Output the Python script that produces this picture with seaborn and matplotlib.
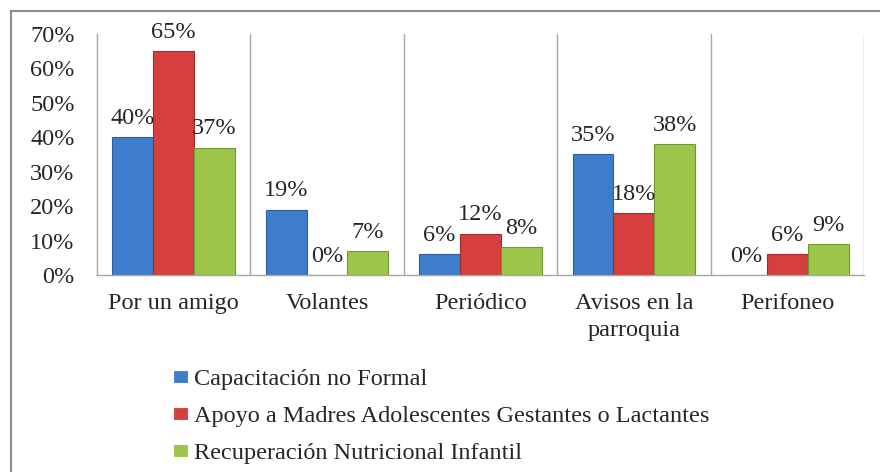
import matplotlib
matplotlib.use("Agg")
import matplotlib.pyplot as plt
import matplotlib.patches as mpatches
import seaborn as sns
import pandas as pd

categorias = ["Por un amigo", "Volantes", "Periódico", "Avisos en la\nparroquia", "Perifoneo"]
programas = ["Capacitación no Formal",
             "Apoyo a Madres Adolescentes Gestantes o Lactantes",
             "Recuperación Nutricional Infantil"]
capacitacion = [40, 19, 6, 35, 0]
apoyo_madres = [65, 0, 12, 18, 6]
recuperacion = [37, 7, 8, 38, 9]
colores = ["#3d7dcb", "#d5403e", "#9cc649"]
bordes = ["#2e5f9c", "#a02c2a", "#739636"]

df = pd.DataFrame({
    "categoria": categorias * 3,
    "programa": [programas[0]] * 5 + [programas[1]] * 5 + [programas[2]] * 5,
    "valor": capacitacion + apoyo_madres + recuperacion,
})

sns.set_style("white")
plt.rcParams['font.family'] = ['Liberation Serif', 'DejaVu Serif']
fs = 17.5

fig = plt.figure(figsize=(8.8, 4.72), dpi=100)
ax = fig.add_axes([0.110, 0.4174, 0.872, 0.5106])

sns.barplot(data=df, x="categoria", y="valor", hue="programa", palette=colores,
            order=categorias, hue_order=programas, width=0.8, ax=ax,
            saturation=1, linewidth=0.8, legend=True)

# borde un poco más oscuro en cada serie + etiquetas de datos
for cont, borde in zip(ax.containers, bordes):
    for bar in cont:
        bar.set_edgecolor(borde)
        h = bar.get_height()
        ax.text(bar.get_x() + bar.get_width() / 2, h + 2.4, f"{h:.0f}%",
                ha="center", va="bottom", fontsize=fs)

ax.set_ylim(0, 70)
ax.set_xlim(-0.5, 4.5)
ax.set_yticks(range(0, 71, 10))
ax.set_yticklabels([f"{v}%" for v in range(0, 71, 10)], fontsize=fs)
ax.tick_params(axis="x", labelsize=fs, pad=13, length=0)
ax.tick_params(axis="y", length=0, pad=16)
for t in ax.get_xticklabels():
    t.set_linespacing(1.4)
ax.set_xlabel("")
ax.set_ylabel("")

for xv in [0.5, 1.5, 2.5, 3.5, 4.5]:
    ax.axvline(xv, color="#a6a6a6", lw=1)
for s in ["top", "right"]:
    ax.spines[s].set_visible(False)
for s in ["left", "bottom"]:
    ax.spines[s].set_color("#a6a6a6")
    ax.spines[s].set_linewidth(1)

handles, labels = ax.get_legend_handles_labels()
ax.legend_.remove()
fig.legend(handles, labels, loc="upper left", bbox_to_anchor=(0.1966, 0.218),
           frameon=False, fontsize=fs, handlelength=0.62, handleheight=0.42,
           handletextpad=0.25, labelspacing=0.66, borderaxespad=0, borderpad=0)

# borde exterior del gráfico
fig.patches.append(mpatches.Rectangle((11 / 880, -0.05), 1.1, (472 - 11) / 472 + 0.05,
                                      transform=fig.transFigure, fill=False,
                                      edgecolor="#8c8c8c", lw=1.5))

fig.savefig("out.png", dpi=100)
